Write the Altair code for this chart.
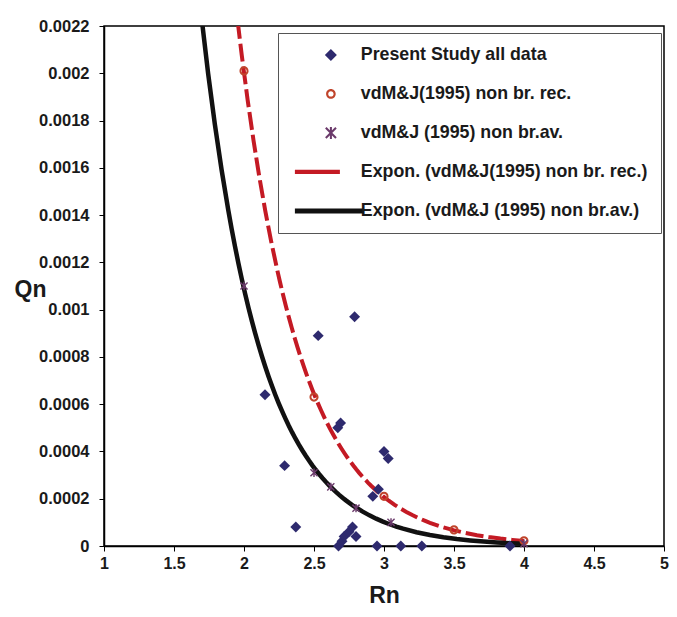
import altair as alt
import pandas as pd

# ---------------- data ----------------
SERIES = [
    "Present Study all data",
    "vdM&J(1995) non br. rec.",
    "vdM&J (1995) non br.av.",
    "Expon. (vdM&J(1995) non br. rec.)",
    "Expon. (vdM&J (1995) non br.av.)",
]

study_rn = [2.15, 2.29, 2.37, 2.53, 2.79, 2.67, 2.69, 2.92, 2.96, 3.00, 3.03,
            2.675, 2.70, 2.715, 2.75, 2.775, 2.80, 2.95, 3.12, 3.27, 3.90]
study_qn = [0.00064, 0.00034, 0.00008, 0.00089, 0.00097, 0.00050, 0.00052,
            0.00021, 0.00024, 0.00040, 0.00037, 0.0, 0.00002, 0.00004,
            0.00006, 0.00008, 0.00004, 0.0, 0.0, 0.0, 0.0]

rec_rn = [2.0, 2.5, 3.0, 3.5, 4.0]
rec_qn = [0.00201, 0.00063, 0.00021, 0.000068, 0.000022]

av_rn = [2.0, 2.5, 2.62, 2.8, 3.05, 4.0]
av_qn = [0.0011, 0.00031, 0.00025, 0.00016, 0.0001, 0.00001]

x_ticks = [1, 1.5, 2, 2.5, 3, 3.5, 4, 4.5, 5]
y_ticks = [0, 0.0002, 0.0004, 0.0006, 0.0008, 0.001, 0.0012, 0.0014,
           0.0016, 0.0018, 0.002, 0.0022]

# ---------------- styles ----------------
NAVY = "#2E2A6E"
CIRC = "#C0442B"
STAR = "#6B3A6B"
RED = "#C41A24"
BLACK = "#111111"
FONT = "Liberation Sans"


def poly(pts):
    # make every polygon clockwise on screen so overlaps stay filled
    area = sum(x0 * y1 - x1 * y0 for (x0, y0), (x1, y1) in zip(pts, pts[1:] + pts[:1]))
    if area < 0:
        pts = pts[::-1]
    return "M" + "L".join(f"{x:.3f},{y:.3f}" for x, y in pts) + "Z"


def asterisk(a=0.85, w=0.17, b=1.0):
    d = w / 2 ** 0.5
    p1 = [(-a + d, -a - d), (a + d, a - d), (a - d, a + d), (-a - d, -a + d)]
    p2 = [(-a + d, a + d), (a + d, -a + d), (a - d, -a - d), (-a - d, a - d)]
    p3 = [(-w, -b), (w, -b), (w, b), (-w, b)]
    return poly(p1) + poly(p2) + poly(p3)


def ring(ro=0.8, ri=0.45):
    return (f"M{ro},0A{ro},{ro},0,1,1,{-ro},0A{ro},{ro},0,1,1,{ro},0Z"
            f"M{ri},0A{ri},{ri},0,1,0,{-ri},0A{ri},{ri},0,1,0,{ri},0Z")


def bar(x0, x1, h):
    return poly([(x0, -h), (x1, -h), (x1, h), (x0, h)])


shapes = ["diamond", ring(), asterisk(), bar(-6.0, 1.5, 0.34), bar(-6.0, 5.4, 0.42)]
colors = [NAVY, CIRC, STAR, RED, BLACK]

study = pd.DataFrame({"rn": study_rn, "qn": study_qn, "series": SERIES[0]})
rec = pd.DataFrame({"rn": rec_rn, "qn": rec_qn, "series": SERIES[1]})
av = pd.DataFrame({"rn": av_rn, "qn": av_qn, "series": SERIES[2]})

legend = alt.Legend(
    title=None,
    orient="none",
    legendX=174,
    legendY=7,
    direction="vertical",
    symbolSize=144,
    symbolOffset=31,
    symbolStrokeWidth=0,
    symbolOpacity=1,
    labelOffset=21,
    labelFont=FONT,
    labelFontSize=17.8,
    labelFontWeight="bold",
    labelColor="#1a1a1a",
    labelLimit=400,
    rowPadding=20,
    padding=13,
    strokeColor="#555555",
    fillColor="white",
)

X = alt.X(
    "rn:Q",
    title="Rn",
    scale=alt.Scale(domain=[1, 5], nice=False, zero=False),
    axis=alt.Axis(
        values=x_ticks, format="~g", grid=False,
        labelFont=FONT, labelFontSize=16, labelFontWeight="bold", labelColor="#1a1a1a",
        labelPadding=4, tickSize=5, tickColor="black", domainColor="black", domainWidth=1.5,
        titleFont=FONT, titleFontSize=23, titleFontWeight="bold", titleColor="#1a1a1a",
        titlePadding=13, labelFlush=False,
    ),
)
Y = alt.Y(
    "qn:Q",
    title="Qn",
    scale=alt.Scale(domain=[0, 0.0022], nice=False),
    axis=alt.Axis(
        values=y_ticks, format="~g", grid=False,
        labelFont=FONT, labelFontSize=16.5, labelFontWeight="bold", labelColor="#1a1a1a",
        labelPadding=10, tickSize=5, tickColor="black", domainColor="black", domainWidth=1.5,
        titleFont=FONT, titleFontSize=23, titleFontWeight="bold", titleColor="#1a1a1a",
        titleAngle=0, titleAlign="left", titleBaseline="middle", titleX=-90, titleY=263,
        labelFlush=False,
    ),
)
C = alt.Color("series:N", scale=alt.Scale(domain=SERIES, range=colors), legend=legend)
S = alt.Shape("series:N", scale=alt.Scale(domain=SERIES, range=shapes), legend=legend)

red_fit = (
    alt.Chart(rec)
    .transform_regression("rn", "qn", method="exp", extent=[1.9, 4.0])
    .mark_line(color=RED, strokeWidth=4, strokeDash=[18, 5], clip=True)
    .encode(x=X, y=Y)
)
black_fit = (
    alt.Chart(av)
    .transform_regression("rn", "qn", method="exp", extent=[1.6, 4.0])
    .mark_line(color=BLACK, strokeWidth=4.5, clip=True)
    .encode(x=X, y=Y)
)
pts_study = alt.Chart(study).mark_point(filled=True, size=120, opacity=1, strokeWidth=0).encode(
    x=X, y=Y, color=C, shape=S
)
pts_rec = alt.Chart(rec).mark_point(filled=True, size=130, opacity=1, strokeWidth=0).encode(
    x=X, y=Y, color=C, shape=S
)
pts_av = alt.Chart(av).mark_point(filled=True, size=70, opacity=1, strokeWidth=0).encode(
    x=X, y=Y, color=C, shape=S
)

chart = (
    alt.layer(red_fit, black_fit, pts_study, pts_rec, pts_av)
    .properties(
        width=560,
        height=520,
        autosize=alt.AutoSizeParams(type="none"),
        padding={"left": 104, "top": 26, "right": 13, "bottom": 71},
        background="white",
    )
    .configure_view(stroke="black", strokeWidth=1.5)
)

chart.save("out.html", embed_options={"renderer": "svg", "actions": False})
